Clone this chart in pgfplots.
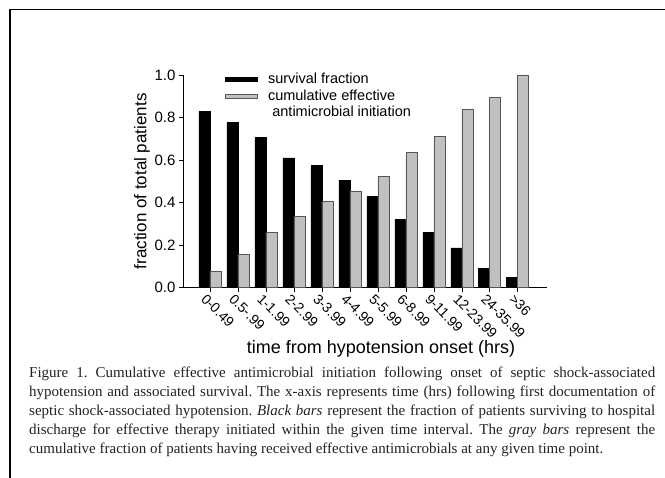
\documentclass[border=0pt]{standalone}
\usepackage{fontspec}
\setmainfont{Liberation Sans}
\newfontfamily\capfont{Liberation Serif}
\usepackage{pgfplots}
\usepackage{pgfplotstable}
\pgfplotsset{compat=1.18}

\definecolor{bargray}{HTML}{C0C0C0}
\definecolor{edgegray}{HTML}{555555}
\definecolor{captext}{HTML}{222222}

% survival fraction (black) and cumulative effective initiation (gray)
\pgfplotstableread{
x  surv   cum
0  0.829  0.076
1  0.776  0.155
2  0.708  0.259
3  0.610  0.336
4  0.573  0.405
5  0.506  0.455
6  0.427  0.523
7  0.322  0.634
8  0.261  0.709
9  0.187  0.839
10 0.092  0.896
11 0.049  1.000
}\shockdata

\begin{document}
\frenchspacing
\begin{tikzpicture}[x=1pt,y=1pt]
\path[use as bounding box] (0,0) rectangle (665,478);
\draw[line width=1.6pt] (10,-2) -- (10,468.5) -- (667,468.5);

\begin{axis}[
    at={(183pt,190.3pt)}, anchor=south west,
    scale only axis, width=364pt, height=212.7pt,
    ybar=0pt, bar width=11pt,
    xmin=-0.964, xmax=12.04, ymin=0, ymax=1,
    enlargelimits=false,
    axis lines=left,
    axis line style={-, line width=1pt},
    tick align=outside, major tick length=4pt,
    tick style={black, line width=0.8pt},
    xtick={0,...,11},
    xticklabels={0-0.49,0.5-.99,1-1.99,2-2.99,3-3.99,4-4.99,5-5.99,6-8.99,9-11.99,12-23.99,24-35.99,>36},
    xticklabel style={font=\fontsize{14}{14}\selectfont, anchor=west, rotate=-45, inner sep=0pt, xshift=-1pt, yshift=-8pt},
    ytick={0,0.2,...,1.0},
    yticklabel style={font=\fontsize{15}{15}\selectfont,
        /pgf/number format/.cd, fixed, fixed zerofill, precision=1, assume math mode=true},
    xlabel={time from hypotension onset (hrs)},
    xlabel style={at={(axis description cs:0.544,-0.287)}, anchor=center, font=\fontsize{18}{18}\selectfont},
    ylabel={fraction of total patients},
    ylabel style={at={(axis description cs:-0.113,0.5)}, anchor=center, font=\fontsize{17}{17}\selectfont},
    legend style={at={(axis description cs:0.1154,1.02)}, anchor=north west,
        draw=none, fill=none, inner sep=0pt, row sep=1pt, column sep=8pt,
        font=\fontsize{14.5}{16}\selectfont,
        cells={align=left}},
    legend cell align=left,
]
\addplot[fill=black, draw=black, line width=0.8pt,
    legend image code/.code={\draw[black, fill=black] (0pt,-2pt) rectangle (32pt,2pt);}]
    table[x=x, y=surv] {\shockdata};
\addlegendentry{survival fraction}
\addplot[fill=bargray, draw=edgegray, line width=0.8pt,
    legend image code/.code={\draw[edgegray, fill=bargray, line width=0.6pt] (0pt,6pt) rectangle (32pt,10pt);}]
    table[x=x, y=cum] {\shockdata};
\addlegendentry{cumulative effective\\\hspace{0.3em}antimicrobial initiation}
\end{axis}

\node[anchor=north west, inner sep=0pt, text width=626pt, align=justify,
    text=captext, font=\capfont\fontsize{15}{19}\selectfont]
    at (29,111.5) {\hyphenpenalty=10000\exhyphenpenalty=10000
Figure 1. Cumulative effective antimicrobial initiation following onset of septic shock-associated\linebreak
hypotension and associated survival. The x-axis represents time (hrs) following first documentation of\linebreak
septic shock-associated hypotension. \textit{Black bars} represent the fraction of patients surviving to hospital\linebreak
discharge for effective therapy initiated within the given time interval. The \textit{gray bars} represent the\linebreak
cumulative fraction of patients having received effective antimicrobials at any given time point.};
\end{tikzpicture}
\end{document}
